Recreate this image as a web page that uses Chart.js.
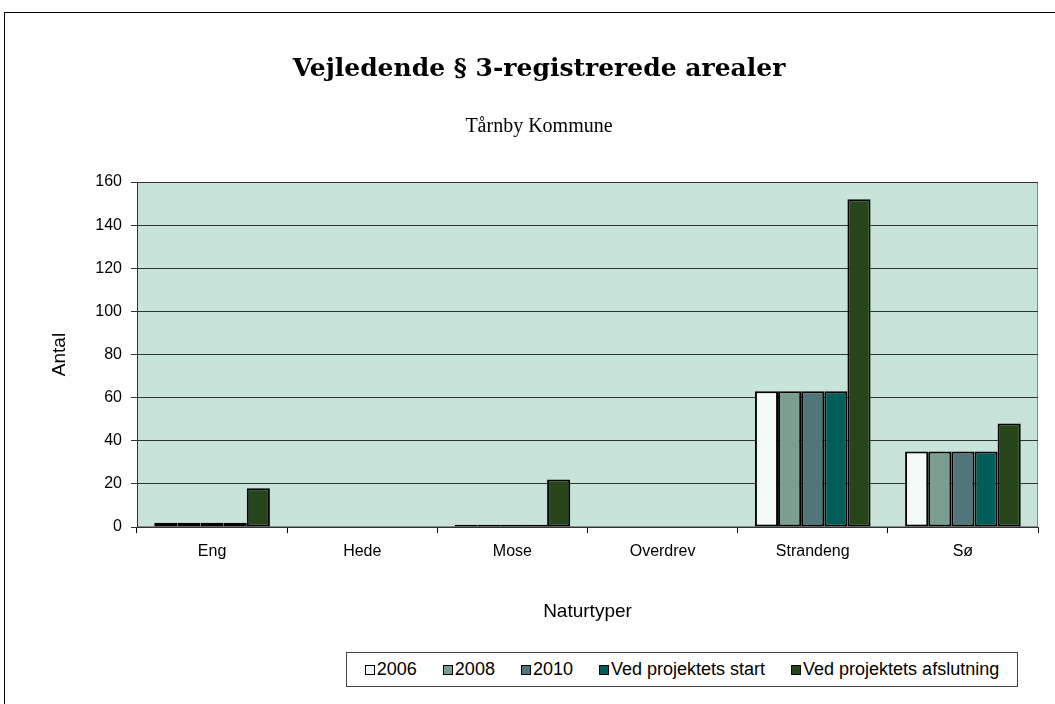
<!DOCTYPE html>
<html>
<head>
<meta charset="utf-8">
<script src="https://cdn.jsdelivr.net/npm/chart.js@4.4.1/dist/chart.umd.min.js"></script>
<style>
  html, body { margin: 0; padding: 0; background: #fff; overflow: hidden; }
  #wrap { position: relative; width: 1055px; height: 704px; }
  #frame { position: absolute; left: 4px; top: 12px; width: 1200px; height: 800px; border: 1px solid #000; box-sizing: border-box; }
  #chart { position: absolute; left: 0; top: 0; }
  #legend {
    position: absolute; left: 346px; top: 652px; width: 672px; height: 35px;
    border: 1px solid #444; box-sizing: border-box; background: #fff;
    display: flex; align-items: center; justify-content: center; gap: 26px;
    font-family: "Liberation Sans", Arial, sans-serif; font-size: 18px; color: #000;
  }
  #legend .item { display: flex; align-items: center; }
  #legend .box { width: 8px; height: 8px; border: 1.5px solid #000; margin-right: 2px; }
</style>
</head>
<body>
<div id="wrap">
  <div id="frame"></div>
  <canvas id="chart" width="1055" height="704"></canvas>
  <div id="legend"></div>
</div>
<script>
// Kategorier og serier
const categories = ['Eng', 'Hede', 'Mose', 'Overdrev', 'Strandeng', 'Sø'];
const seriesNames = ['2006', '2008', '2010', 'Ved projektets start', 'Ved projektets afslutning'];
const values2006 = [2, 0, 1, 0, 63, 35];
const values2008 = [2, 0, 1, 0, 63, 35];
const values2010 = [2, 0, 1, 0, 63, 35];
const valuesStart = [2, 0, 1, 0, 63, 35];
const valuesEnd = [18, 0, 22, 0, 152, 48];
const colors = ['#f4faf8', '#7a9e90', '#50757b', '#005e5a', '#27451b'];
const yTicks = [0, 20, 40, 60, 80, 100, 120, 140, 160];

const seriesValues = [values2006, values2008, values2010, valuesStart, valuesEnd];

// baggrund og ramme for plotområdet
const plotBg = {
    id: 'plotBg',
    beforeDraw(chart) {
        const { ctx, chartArea: a } = chart;
        ctx.save();
        ctx.fillStyle = '#c8e4da';
        ctx.fillRect(a.left, a.top, a.right - a.left, a.bottom - a.top);
        ctx.strokeStyle = '#888';
        ctx.lineWidth = 1;
        ctx.strokeRect(a.left + 0.5, a.top + 0.5, a.right - a.left - 1, a.bottom - a.top - 1);
        ctx.restore();
    }
};

const chart = new Chart('chart', {
    type: 'bar',
    data: {
        labels: categories,
        datasets: seriesNames.map((name, i) => ({
            label: name,
            data: seriesValues[i],
            backgroundColor: colors[i],
            borderColor: '#000',
            borderWidth: 2,
            borderSkipped: false,
            categoryPercentage: 0.77,
            barPercentage: 1.0
        }))
    },
    options: {
        responsive: false,
        animation: false,
        layout: { padding: { left: 40, right: 17, top: 54, bottom: 77 } },
        plugins: {
            legend: { display: false },
            tooltip: { enabled: false },
            title: {
                display: true,
                text: 'Vejledende § 3-registrerede arealer',
                color: '#000',
                font: { family: '"DejaVu Serif", serif', size: 25, weight: 'bold' },
                padding: { top: 0, bottom: 31 }
            },
            subtitle: {
                display: true,
                text: 'Tårnby Kommune',
                color: '#000',
                font: { family: '"Liberation Serif", serif', size: 20 },
                padding: { top: 0, bottom: 43 }
            }
        },
        scales: {
            x: {
                grid: { drawOnChartArea: false, drawTicks: true, tickLength: 6, offset: true, color: '#000' },
                border: { color: '#333', width: 1 },
                ticks: { color: '#000', font: { family: '"Liberation Sans", Arial, sans-serif', size: 16 }, padding: 9 },
                title: {
                    display: true, text: 'Naturtyper', color: '#000',
                    font: { family: '"Liberation Sans", Arial, sans-serif', size: 19 },
                    padding: { top: 13 }
                },
                afterFit(scale) { scale.height = 100; }
            },
            y: {
                min: 0,
                max: 160,
                afterBuildTicks(scale) { scale.ticks = yTicks.map(v => ({ value: v })); },
                grid: { color: '#333', lineWidth: 1, tickLength: 6 },
                border: { color: '#333', width: 1 },
                ticks: { color: '#000', font: { family: '"Liberation Sans", Arial, sans-serif', size: 16 }, padding: 9 },
                title: {
                    display: true, text: 'Antal', color: '#000',
                    font: { family: '"Liberation Sans", Arial, sans-serif', size: 19 },
                    padding: { top: 8, bottom: 0 }
                },
                afterFit(scale) { scale.width = 97; }
            }
        }
    },
    plugins: [plotBg]
});

// forklaring
const legendEl = document.getElementById('legend');
seriesNames.forEach((name, i) => {
    const item = document.createElement('div');
    item.className = 'item';
    const box = document.createElement('span');
    box.className = 'box';
    box.style.background = colors[i];
    const txt = document.createElement('span');
    txt.textContent = name;
    item.appendChild(box);
    item.appendChild(txt);
    legendEl.appendChild(item);
});
</script>
</body>
</html>
